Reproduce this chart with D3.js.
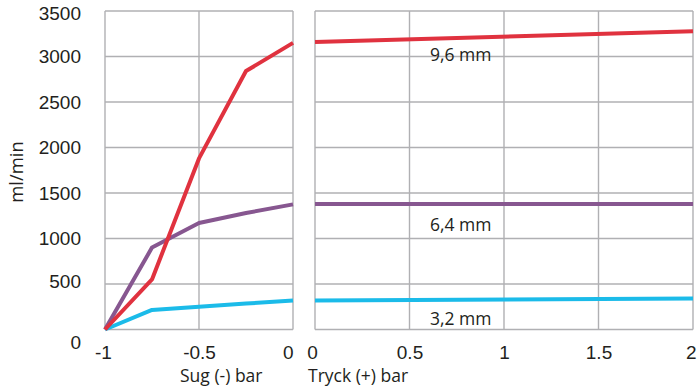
<!DOCTYPE html>
<html>
<head>
<meta charset="utf-8">
<script src="https://cdn.jsdelivr.net/npm/d3@7"></script>
<style>
  body { margin: 0; background: #fff; }
  svg { display: block; }
  .tick text { font-family: "Liberation Sans", Arial, sans-serif; font-size: 19px; fill: #231f20; }
  .title { font-family: "Open Sans", "Noto Sans", sans-serif; font-size: 17.5px; fill: #231f20; }
</style>
</head>
<body>
<script>
// Sug (-) side, x in bar
var sugX = [-1, -0.75, -0.5, -0.25, 0];
var sug96 = [0, 550, 1880, 2840, 3150];
var sug64 = [0, 900, 1170, 1280, 1375];
var sug32 = [0, 215, 250, 285, 318];

// Tryck (+) side
var tryckX = [0, 2];
var tryck96 = [3160, 3278];
var tryck64 = [1378, 1378];
var tryck32 = [320, 340];

var seriesNames = ["9,6 mm", "6,4 mm", "3,2 mm"];
var colors = ["#e0323f", "#875790", "#1bbbe9"];
var yTicks = [0, 500, 1000, 1500, 2000, 2500, 3000, 3500];
var sugTicks = [-1, -0.5, 0];
var tryckTicks = [0, 0.5, 1, 1.5, 2];

var width = 699, height = 392;

var y = d3.scaleLinear().domain([0, 3500]).range([329.5, 11]);
var xL = d3.scaleLinear().domain([-1, 0]).range([105, 293]);
var xR = d3.scaleLinear().domain([0, 2]).range([315, 693]);

var svg = d3.select("body").append("svg")
    .attr("width", width)
    .attr("height", height);

var gridColor = "#b0b0b3";

function panel(x, xticks) {
    var g = svg.append("g");
    // horizontal grid
    g.selectAll("line.h").data(yTicks).enter().append("line")
        .attr("x1", x.range()[0]).attr("x2", x.range()[1])
        .attr("y1", function (d) { return y(d); })
        .attr("y2", function (d) { return y(d); })
        .attr("stroke", gridColor).attr("stroke-width", 1.4);
    // vertical grid
    g.selectAll("line.v").data(xticks).enter().append("line")
        .attr("x1", function (d) { return x(d); })
        .attr("x2", function (d) { return x(d); })
        .attr("y1", y(0)).attr("y2", y(3500))
        .attr("stroke", gridColor).attr("stroke-width", 1.4);
    return g;
}

panel(xL, sugTicks);
panel(xR, tryckTicks);

// lines, sets given in the same order as colors; drawn back to front so red is on top
function drawLines(x, xs, sets) {
    var line = d3.line()
        .x(function (d, i) { return x(xs[i]); })
        .y(function (d) { return y(d); });
    for (var k = sets.length - 1; k >= 0; k--) {
        svg.append("path")
            .datum(sets[k])
            .attr("d", line)
            .attr("fill", "none")
            .attr("stroke", colors[k])
            .attr("stroke-width", 4)
            .attr("stroke-linejoin", "round");
    }
}
drawLines(xL, sugX, [sug96, sug64, sug32]);
drawLines(xR, tryckX, [tryck96, tryck64, tryck32]);

var fmt = function (d) { return String(d); };

// y axis
var yAxis = svg.append("g")
    .attr("transform", "translate(81,0)")
    .call(d3.axisLeft(y).tickValues(yTicks).tickSize(0).tickPadding(0).tickFormat(fmt));
yAxis.select(".domain").remove();
yAxis.selectAll(".tick text")
    .attr("dy", function (d) { return d === 0 ? "1.0em" : (d === 3500 ? "0.45em" : (d === 500 ? "0.2em" : "0.32em")); });

// x axes
var xAxisL = svg.append("g")
    .attr("transform", "translate(0,345)")
    .call(d3.axisBottom(xL).tickValues(sugTicks).tickSize(0).tickPadding(0).tickFormat(fmt));
xAxisL.select(".domain").remove();
xAxisL.selectAll(".tick text")
    .attr("text-anchor", function (d) { return d === 0 ? "end" : "middle"; })
    .attr("dx", function (d) { return d === -1 ? "-2" : "0"; });

var xAxisR = svg.append("g")
    .attr("transform", "translate(0,345)")
    .call(d3.axisBottom(xR).tickValues(tryckTicks).tickSize(0).tickPadding(0).tickFormat(fmt));
xAxisR.select(".domain").remove();
xAxisR.selectAll(".tick text")
    .attr("text-anchor", function (d) { return d === 2 ? "end" : "middle"; })
    .attr("dx", function (d) { return d === 0 ? "-3" : (d === 2 ? "3" : "0"); });

// titles
svg.append("text").attr("class", "title")
    .attr("x", 180).attr("y", 382).text("Sug (-) bar");
svg.append("text").attr("class", "title")
    .attr("x", 308).attr("y", 382).text("Tryck (+) bar");
svg.append("text").attr("class", "title")
    .attr("transform", "translate(23,172) rotate(-90)")
    .attr("text-anchor", "middle")
    .style("font-size", "18.5px")
    .text("ml/min");

// series labels
var labelY = [60.5, 230.5, 325];
seriesNames.forEach(function (n, i) {
    svg.append("text").attr("class", "title")
        .attr("x", 430).attr("y", labelY[i]).text(n);
});
</script>
</body>
</html>
